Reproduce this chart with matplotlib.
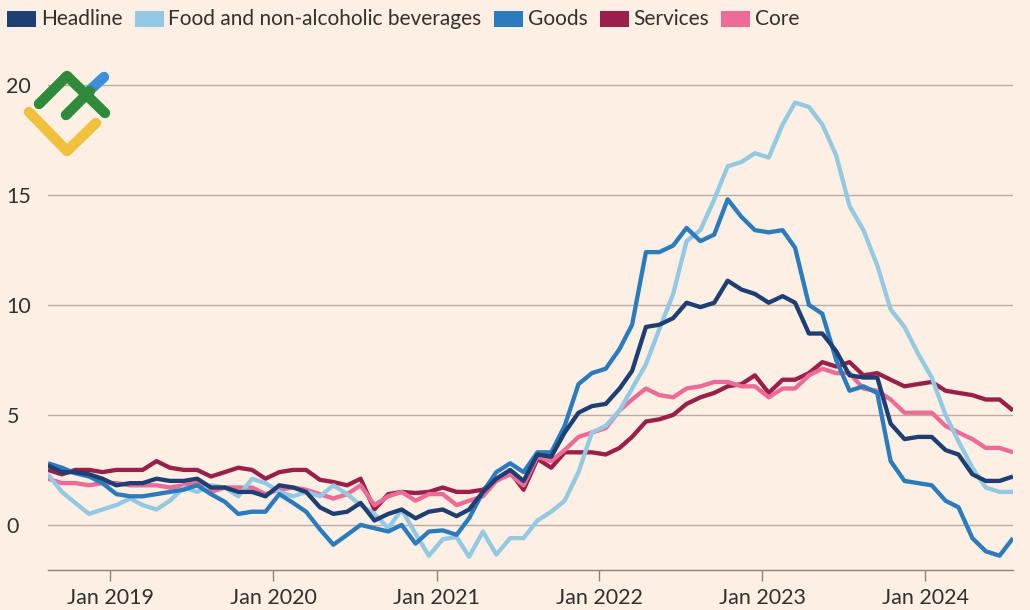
import matplotlib
matplotlib.use("Agg")
import matplotlib.pyplot as plt
import matplotlib.dates as mdates
from matplotlib.lines import Line2D
from matplotlib.patches import Rectangle
import pandas as pd

# monthly annual rates, Aug 2018 - Jul 2024 (points dated mid-month)
months = pd.date_range("2018-08-01", periods=72, freq="MS") + pd.Timedelta(days=14)

headline = [2.7, 2.4, 2.4, 2.3, 2.1,
            1.8, 1.9, 1.9, 2.1, 2.0, 2.0, 2.1, 1.7, 1.7, 1.5, 1.5, 1.3,
            1.8, 1.7, 1.5, 0.8, 0.5, 0.6, 1.0, 0.2, 0.5, 0.7, 0.3, 0.6,
            0.7, 0.4, 0.7, 1.5, 2.1, 2.5, 2.0, 3.2, 3.1, 4.2, 5.1, 5.4,
            5.5, 6.2, 7.0, 9.0, 9.1, 9.4, 10.1, 9.9, 10.1, 11.1, 10.7, 10.5,
            10.1, 10.4, 10.1, 8.7, 8.7, 7.9, 6.8, 6.7, 6.7, 4.6, 3.9, 4.0,
            4.0, 3.4, 3.2, 2.3, 2.0, 2.0, 2.2]

food = [2.3, 1.5, 1.0, 0.5, 0.7,
        0.9, 1.2, 0.9, 0.7, 1.1, 1.7, 1.5, 1.8, 1.7, 1.3, 2.1, 1.9,
        1.5, 1.3, 1.5, 1.3, 1.8, 1.4, 0.9, 0.5, -0.15, 0.7, -0.4, -1.4,
        -0.65, -0.55, -1.45, -0.3, -1.35, -0.6, -0.6, 0.2, 0.6, 1.1, 2.4, 4.2,
        4.5, 5.2, 6.2, 7.3, 8.9, 10.5, 12.9, 13.4, 14.8, 16.3, 16.5, 16.9,
        16.7, 18.2, 19.2, 19.0, 18.2, 16.8, 14.5, 13.4, 11.8, 9.8, 9.0, 7.8,
        6.7, 5.0, 3.8, 2.6, 1.7, 1.5, 1.5]

goods = [2.8, 2.6, 2.35, 2.2, 1.9,
         1.4, 1.3, 1.3, 1.4, 1.5, 1.6, 1.8, 1.4, 1.05, 0.5, 0.6, 0.6,
         1.4, 1.0, 0.6, -0.2, -0.9, -0.45, 0.0, -0.15, -0.3, 0.0, -0.85, -0.3,
         -0.25, -0.45, 0.3, 1.5, 2.4, 2.8, 2.4, 3.3, 3.3, 4.5, 6.4, 6.9,
         7.1, 8.0, 9.1, 12.4, 12.4, 12.7, 13.5, 12.9, 13.2, 14.8, 14.0, 13.4,
         13.3, 13.4, 12.6, 10.0, 9.6, 7.5, 6.1, 6.3, 6.0, 2.9, 2.0, 1.9,
         1.8, 1.1, 0.8, -0.6, -1.2, -1.4, -0.6]

services = [2.5, 2.3, 2.5, 2.5, 2.4,
            2.5, 2.5, 2.5, 2.9, 2.6, 2.5, 2.5, 2.2, 2.4, 2.6, 2.5, 2.1,
            2.4, 2.5, 2.5, 2.05, 1.95, 1.8, 2.1, 0.7, 1.4, 1.5, 1.45, 1.5,
            1.7, 1.5, 1.5, 1.6, 2.05, 2.4, 1.6, 3.0, 2.6, 3.3, 3.3, 3.3,
            3.2, 3.5, 4.0, 4.7, 4.8, 5.0, 5.5, 5.8, 6.0, 6.3, 6.4, 6.8,
            6.0, 6.6, 6.6, 6.9, 7.4, 7.2, 7.4, 6.8, 6.9, 6.6, 6.3, 6.4,
            6.5, 6.1, 6.0, 5.9, 5.7, 5.7, 5.2]

core = [2.1, 1.9, 1.9, 1.8, 1.9,
        1.9, 1.8, 1.8, 1.8, 1.7, 1.8, 1.9, 1.5, 1.7, 1.7, 1.7, 1.4,
        1.6, 1.7, 1.6, 1.4, 1.2, 1.4, 1.8, 0.9, 1.3, 1.5, 1.1, 1.4,
        1.4, 0.9, 1.1, 1.3, 2.0, 2.3, 1.8, 3.1, 2.9, 3.4, 4.0, 4.2,
        4.4, 5.2, 5.7, 6.2, 5.9, 5.8, 6.2, 6.3, 6.5, 6.5, 6.3, 6.3,
        5.8, 6.2, 6.2, 6.8, 7.1, 6.9, 6.9, 6.2, 6.1, 5.7, 5.1, 5.1,
        5.1, 4.5, 4.2, 3.9, 3.5, 3.5, 3.3]

legend_names = ["Headline", "Food and non-alcoholic beverages", "Goods", "Services", "Core"]
legend_colors = ["#1d3f73", "#93c9e2", "#2b7bbd", "#9a1f4a", "#ee6a98"]
y_ticks = [0, 5, 10, 15, 20]
tick_years = [2019, 2020, 2021, 2022, 2023, 2024]

bg = "#fdefe3"
text_col = "#33302e"
grid_col = "#b9ada3"
plt.rcParams["font.family"] = ["Lato", "DejaVu Sans"]

fig = plt.figure(figsize=(10.3, 6.1), dpi=100, facecolor=bg)
ax = fig.add_axes([48 / 1030, 40 / 610, 965 / 1030, 500 / 610])
ax.set_facecolor(bg)

# draw order: services and core underneath, headline on top
data = dict(zip(legend_names, [headline, food, goods, services, core]))
colors = dict(zip(legend_names, legend_colors))
for name in ["Services", "Core", "Food and non-alcoholic beverages", "Goods", "Headline"]:
    ax.plot(months, data[name], color=colors[name], lw=3.1,
            solid_joinstyle="round", solid_capstyle="butt", zorder=3)

ax.set_xlim(months[0], months[-1])
ax.set_ylim(-2.05, 20.68)
ax.set_yticks(y_ticks)
ax.set_yticklabels([str(t) for t in y_ticks])
ax.grid(axis="y", color=grid_col, lw=1.0, zorder=1)
ax.tick_params(axis="y", length=0, pad=30, labelsize=15.5, labelcolor=text_col)
for lab in ax.get_yticklabels():
    lab.set_horizontalalignment("left")

ax.set_xticks([pd.Timestamp(f"{y}-01-01") for y in tick_years])
ax.xaxis.set_major_formatter(mdates.DateFormatter("Jan %Y"))
ax.tick_params(axis="x", length=8, width=1.0, color="#8f8379", pad=5,
               labelsize=15.5, labelcolor=text_col)

for side in ["top", "right", "left"]:
    ax.spines[side].set_visible(False)
ax.spines["bottom"].set_color("#8f8379")
ax.spines["bottom"].set_linewidth(1.0)

# legend row across the top
renderer = fig.canvas.get_renderer()
x = 7
for name, col in zip(legend_names, legend_colors):
    fig.add_artist(Rectangle((x / 1030, 1 - 27 / 610), 29 / 1030, 16 / 610,
                             transform=fig.transFigure, color=col, lw=0))
    t = fig.text((x + 34) / 1030, 1 - 19 / 610, name, fontsize=15, color=text_col,
                 va="center", ha="left")
    bb = t.get_window_extent(renderer)
    x = bb.x1 + 12

# watermark logo
def stroke(pts, col):
    xs = [p[0] / 1030 for p in pts]
    ys = [1 - p[1] / 610 for p in pts]
    fig.add_artist(Line2D(xs, ys, transform=fig.transFigure, color=col, lw=7.5,
                          solid_capstyle="round", solid_joinstyle="round", zorder=10))

stroke([(29, 112), (67, 151), (96, 123)], "#efc13d")
stroke([(90, 90), (104, 77)], "#3b8fdc")
stroke([(39, 104), (67, 76), (105, 113)], "#2f8a3c")
stroke([(66, 115), (90, 91)], "#2f8a3c")

fig.savefig("out.png", dpi=100, facecolor=bg)
